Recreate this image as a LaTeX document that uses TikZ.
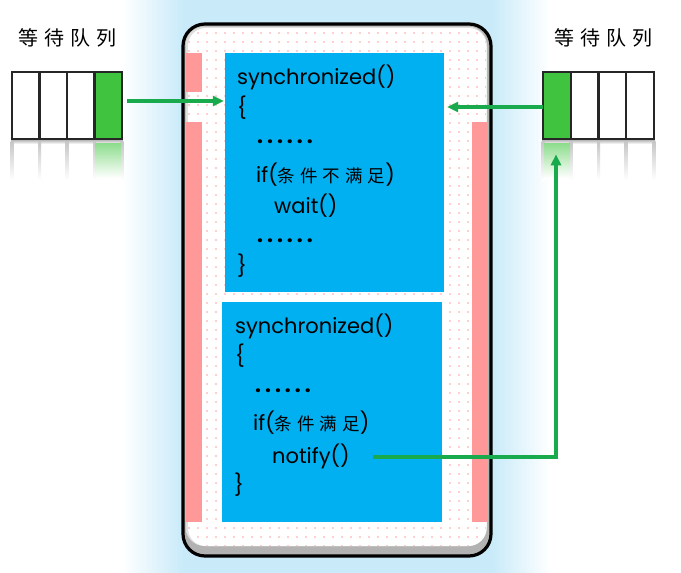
\documentclass[tikz,border=0pt]{standalone}
\usepackage{fontspec}
\setmainfont{Poppins}
\newfontfamily\cjk{Noto Sans CJK SC}
\usetikzlibrary{arrows.meta,patterns.meta}
\definecolor{glow}{RGB}{200,234,249}
\definecolor{boxblue}{RGB}{0,176,240}
\definecolor{strip}{RGB}{255,153,153}
\definecolor{qgreen}{RGB}{64,196,64}
\definecolor{agreen}{RGB}{26,170,78}
\definecolor{dotpink}{RGB}{255,160,160}
\newcommand{\cs}{\hspace{5pt}}
\newcommand{\ts}{\hspace{6pt}}
\newcommand{\dd}{\textbf{.\hspace{4pt}.\hspace{4pt}.\hspace{4pt}.\hspace{4pt}.\hspace{4pt}.}}
\begin{document}
\begin{tikzpicture}[x=1pt,y=-1pt,
  code/.style={anchor=base west, inner sep=0, font=\fontsize{21}{21}\selectfont},
  cjkt/.style={inner sep=0, font=\cjk\fontsize{20}{20}\selectfont},
  codebox/.style={fill=boxblue, inner sep=0},
  queue/.style={draw=black!85, line width=2.6, inner sep=0, minimum width=110, minimum height=67},
  arr/.style={draw=agreen, line width=3.3, -{Triangle[length=11pt,width=10pt]}},
  refl/.style={top color=gray!55, bottom color=white},
]
\useasboundingbox (0,0) rectangle (681,573);
\fill[white] (0,0) rectangle (681,573);
% glow
\shade[left color=white, right color=glow] (122,0) rectangle (184,573);
\fill[glow] (183,0) rectangle (492,573);
\shade[left color=glow, right color=white] (491,0) rectangle (550,573);
% container
\draw[line width=3.2, fill=gray!60, rounded corners=22] (183,24) rectangle (491,556);
\fill[gray!25, rounded corners=19] (185.5,26.5) rectangle (487,546);
\fill[white, rounded corners=18] (188,28) rectangle (486.5,546);
\fill[pattern={Dots[distance=9pt,radius=0.9pt]}, pattern color=dotpink, rounded corners=18] (188,28) rectangle (486.5,546);
\fill[strip] (186,53) rectangle (202,92);
\fill[strip] (186,122) rectangle (202,522);
\fill[strip] (472,122) rectangle (487,522);
% code boxes
\node[codebox, minimum width=219, minimum height=239] (topbox) at (334.5,172.5) {};
\node[codebox, minimum width=220, minimum height=220] (botbox) at (332,412) {};
% top code
\node[code] (t1) at (237,84) {synchronized()};
\node[code] (t2) at (237,115) {\{};
\node[code] (t3) at (257,143) {\dd};
\node[code] (t4) at (256,182) {if({\cjk\fontsize{17.5}{17.5}\selectfont 条\cs 件\cs 不\cs 满\cs 足})};
\node[code] (t5) at (274,213) {wait()};
\node[code] (t6) at (257,242) {\dd};
\node[code] (t7) at (237,273) {\}};
% bottom code
\node[code] (b1) at (235,333) {synchronized()};
\node[code] (b2) at (235,363) {\{};
\node[code] (b3) at (255,392) {\dd};
\node[code] (b4) at (253,430) {if({\cjk\fontsize{17.5}{17.5}\selectfont 条\cs 件\cs 满\cs 足})};
\node[code] (b5) at (272,463) {notify()};
\node[code] (b6) at (234,492) {\}};
% left queue
\fill[qgreen] (94.5,72) rectangle (122,139);
\shade[refl] (11,140) rectangle (123,144);
\foreach \xx in {12,39.5,67,94.5,122} \shade[top color=gray!45, bottom color=white] (\xx-1.5,141) rectangle (\xx+1.5,180);
\shade[top color=qgreen!60, bottom color=white] (95.5,143) rectangle (121,178);
\node[queue] (lq) at (67,105.5) {};
\foreach \xx in {39.5,67,94.5} \draw[black!85, line width=2.6] (\xx,72) -- (\xx,139);
\node[cjkt] (lt) at (68,38) {等\ts 待\ts 队\ts 列};
% right queue
\fill[qgreen] (543,72) rectangle (571,139);
\shade[refl] (542,140) rectangle (655,144);
\foreach \xx in {543,571,598.5,626,654} \shade[top color=gray!45, bottom color=white] (\xx-1.5,141) rectangle (\xx+1.5,180);
\shade[top color=qgreen!60, bottom color=white] (544,143) rectangle (570,178);
\node[queue, minimum width=111] (rq) at (598.5,105.5) {};
\foreach \xx in {571,598.5,626} \draw[black!85, line width=2.6] (\xx,72) -- (\xx,139);
\node[cjkt] (rt) at (603,38) {等\ts 待\ts 队\ts 列};
% arrows
\coordinate (la) at (127,101);
\draw[arr, shorten >=1pt] (la) -- (la -| topbox.west);
\coordinate (ra) at (543,107);
\draw[arr, shorten >=3pt] (ra) -- (ra -| topbox.east);
\coordinate (ns) at (373,457);
\coordinate (nc) at (556,457);
\draw[arr, shorten >=14pt] (ns) -- (nc) -- (nc |- rq.south);
\end{tikzpicture}
\end{document}
